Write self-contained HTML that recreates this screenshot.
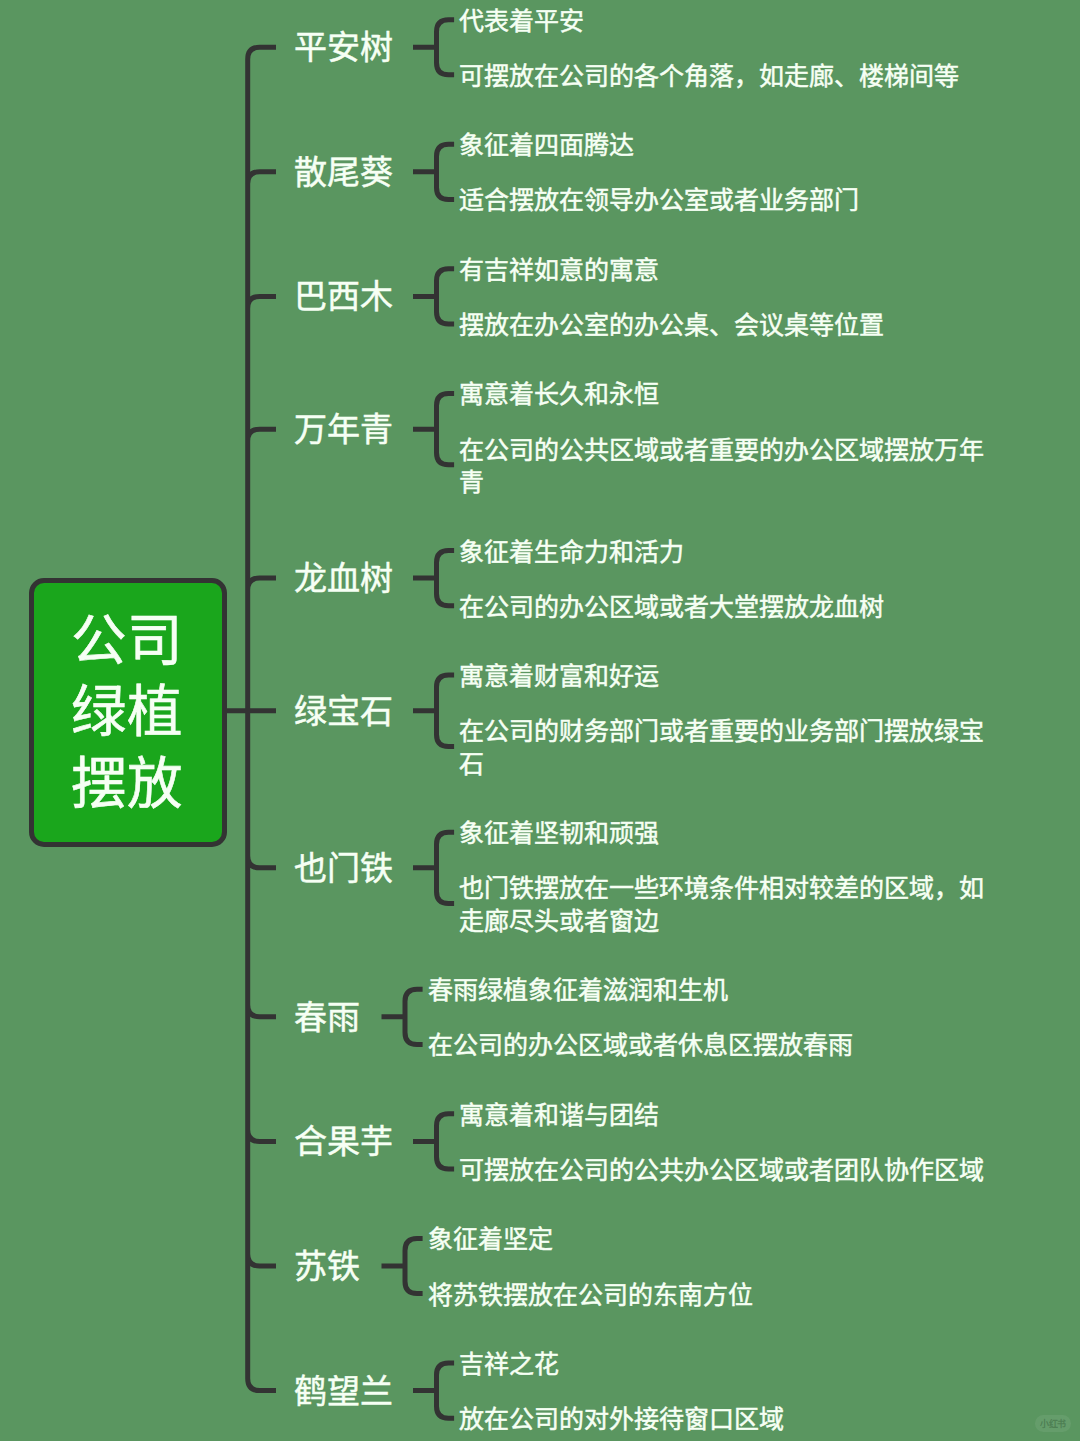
<!DOCTYPE html>
<html lang="zh-CN"><head><meta charset="utf-8"><style>
html,body{margin:0;padding:0;}
body{width:1080px;height:1441px;background:#5a9660;position:relative;overflow:hidden;font-family:"Liberation Sans",sans-serif;color:#f6fff4;}
.l1{position:absolute;font-size:33px;line-height:33px;white-space:nowrap;-webkit-text-stroke:0.5px #f6fff4;}
.l2{position:absolute;font-size:25px;line-height:32.5px;white-space:nowrap;-webkit-text-stroke:0.5px #f6fff4;}
.root{position:absolute;left:28.6px;top:577.5px;width:198.3px;height:269.7px;box-sizing:border-box;border:5px solid #333333;border-radius:15px;background:#1aa61c;}
.rt{position:absolute;left:71px;font-size:55.5px;line-height:1;white-space:nowrap;-webkit-text-stroke:0.6px #f6fff4;}
.wm{position:absolute;left:1035px;top:1415px;width:36px;height:17px;border-radius:9px;background:rgba(255,255,255,0.07);font-size:9px;line-height:18px;text-align:center;color:rgba(40,80,45,0.4);font-weight:bold;letter-spacing:-0.5px;}
</style></head><body>
<svg width="1080" height="1441" style="position:absolute;left:0;top:0"><path d="M247.7 711.1V59.21Q247.7 47.21 259.7 47.21H276M413 47.21H436.5M454.1 19.64H448.5Q436.5 19.64 436.5 31.64V62.78Q436.5 74.78 448.5 74.78H454.1M247.7 711.1V183.81Q247.7 171.81 259.7 171.81H276M413 171.81H436.5M454.1 144.24H448.5Q436.5 144.24 436.5 156.24V187.38Q436.5 199.38 448.5 199.38H454.1M247.7 711.1V308.41Q247.7 296.41 259.7 296.41H276M413 296.41H436.5M454.1 268.84H448.5Q436.5 268.84 436.5 280.84V311.98Q436.5 323.98 448.5 323.98H454.1M247.7 711.1V441.13Q247.7 429.13 259.7 429.13H276M413 429.13H436.5M454.1 393.44H448.5Q436.5 393.44 436.5 405.44V452.81Q436.5 464.81 448.5 464.81H454.1M247.7 711.1V590.08Q247.7 578.08 259.7 578.08H276M413 578.08H436.5M454.1 550.51H448.5Q436.5 550.51 436.5 562.51V593.65Q436.5 605.65 448.5 605.65H454.1M226.7 710.80H276M413 710.80H436.5M454.1 675.11H448.5Q436.5 675.11 436.5 687.11V734.49Q436.5 746.49 448.5 746.49H454.1M247.7 711.1V855.87Q247.7 867.87 259.7 867.87H276M413 867.87H436.5M454.1 832.18H448.5Q436.5 832.18 436.5 844.18V891.56Q436.5 903.56 448.5 903.56H454.1M247.7 711.1V1004.82Q247.7 1016.82 259.7 1016.82H276M381.5 1016.82H405.0M422.6 989.25H417.0Q405.0 989.25 405.0 1001.25V1032.39Q405.0 1044.39 417.0 1044.39H422.6M247.7 711.1V1129.42Q247.7 1141.42 259.7 1141.42H276M413 1141.42H436.5M454.1 1113.85H448.5Q436.5 1113.85 436.5 1125.85V1156.99Q436.5 1168.99 448.5 1168.99H454.1M247.7 711.1V1254.02Q247.7 1266.02 259.7 1266.02H276M381.5 1266.02H405.0M422.6 1238.45H417.0Q405.0 1238.45 405.0 1250.45V1281.59Q405.0 1293.59 417.0 1293.59H422.6M247.7 711.1V1378.62Q247.7 1390.62 259.7 1390.62H276M413 1390.62H436.5M454.1 1363.05H448.5Q436.5 1363.05 436.5 1375.05V1406.19Q436.5 1418.19 448.5 1418.19H454.1" fill="none" stroke="#333333" stroke-width="5" stroke-linecap="butt"/></svg>
<div class="root"></div>
<div class="rt" style="top:613.7px">公司</div><div class="rt" style="top:685.2px">绿植</div><div class="rt" style="top:756.7px">摆放</div>
<div class="l1" style="left:294px;top:31.21px">平安树</div><div class="l2" style="left:459px;top:4.64px">代表着平安</div><div class="l2" style="left:459px;top:59.78px">可摆放在公司的各个角落，如走廊、楼梯间等</div><div class="l1" style="left:294px;top:155.81px">散尾葵</div><div class="l2" style="left:459px;top:129.24px">象征着四面腾达</div><div class="l2" style="left:459px;top:184.38px">适合摆放在领导办公室或者业务部门</div><div class="l1" style="left:294px;top:280.41px">巴西木</div><div class="l2" style="left:459px;top:253.84px">有吉祥如意的寓意</div><div class="l2" style="left:459px;top:308.98px">摆放在办公室的办公桌、会议桌等位置</div><div class="l1" style="left:294px;top:413.13px">万年青</div><div class="l2" style="left:459px;top:378.44px">寓意着长久和永恒</div><div class="l2" style="left:459px;top:433.56px">在公司的公共区域或者重要的办公区域摆放万年<br>青</div><div class="l1" style="left:294px;top:562.08px">龙血树</div><div class="l2" style="left:459px;top:535.51px">象征着生命力和活力</div><div class="l2" style="left:459px;top:590.65px">在公司的办公区域或者大堂摆放龙血树</div><div class="l1" style="left:294px;top:694.80px">绿宝石</div><div class="l2" style="left:459px;top:660.11px">寓意着财富和好运</div><div class="l2" style="left:459px;top:715.24px">在公司的财务部门或者重要的业务部门摆放绿宝<br>石</div><div class="l1" style="left:294px;top:851.87px">也门铁</div><div class="l2" style="left:459px;top:817.18px">象征着坚韧和顽强</div><div class="l2" style="left:459px;top:872.31px">也门铁摆放在一些环境条件相对较差的区域，如<br>走廊尽头或者窗边</div><div class="l1" style="left:294px;top:1000.82px">春雨</div><div class="l2" style="left:427.5px;top:974.25px">春雨绿植象征着滋润和生机</div><div class="l2" style="left:427.5px;top:1029.39px">在公司的办公区域或者休息区摆放春雨</div><div class="l1" style="left:294px;top:1125.42px">合果芋</div><div class="l2" style="left:459px;top:1098.85px">寓意着和谐与团结</div><div class="l2" style="left:459px;top:1153.99px">可摆放在公司的公共办公区域或者团队协作区域</div><div class="l1" style="left:294px;top:1250.02px">苏铁</div><div class="l2" style="left:427.5px;top:1223.45px">象征着坚定</div><div class="l2" style="left:427.5px;top:1278.59px">将苏铁摆放在公司的东南方位</div><div class="l1" style="left:294px;top:1374.62px">鹤望兰</div><div class="l2" style="left:459px;top:1348.05px">吉祥之花</div><div class="l2" style="left:459px;top:1403.19px">放在公司的对外接待窗口区域</div>
<div class="wm">小红书</div>
</body></html>
